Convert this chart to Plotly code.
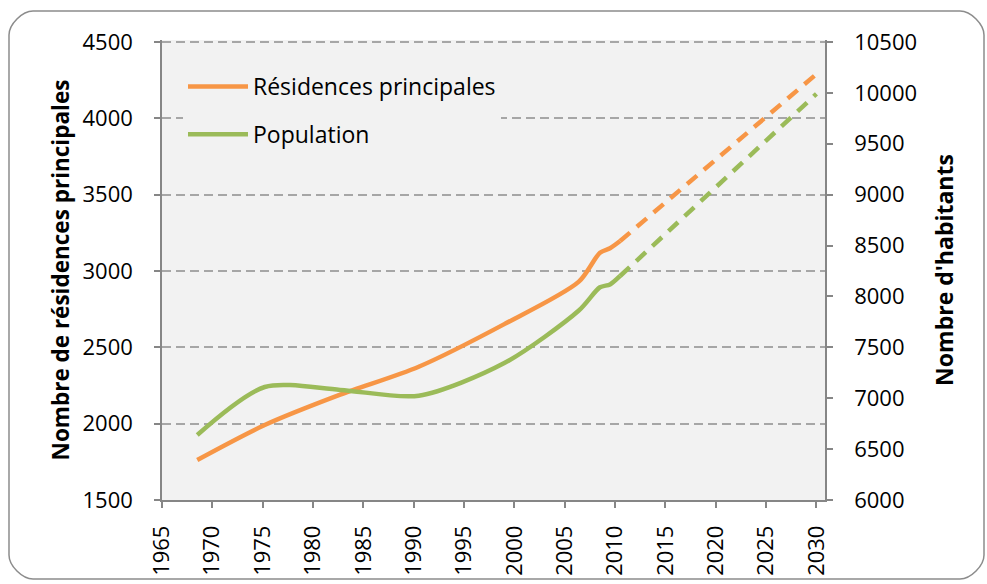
import plotly.graph_objects as go

# ---- data ----
years_obs = [1968.5, 1975.2, 1982.7, 1990.5, 1999.0, 2006.4, 2008.5, 2009.5, 2010.5]
residences_obs = [1762, 1991, 2190, 2373, 2652, 2930, 3120, 3149, 3196]
population_obs = [6639, 7110, 7082, 7025, 7345, 7862, 8090, 8118, 8201]

years_proj = [2010.5, 2030]
residences_proj = [3196, 4290]
population_proj = [8201, 9990]

left_ticks = [1500, 2000, 2500, 3000, 3500, 4000, 4500]
right_ticks = [6000, 6500, 7000, 7500, 8000, 8500, 9000, 9500, 10000, 10500]
right_labels = [str(v) for v in right_ticks]
x_ticks = list(range(1965, 2031, 5))

ORANGE = "#F79646"
GREEN = "#9BBB59"
FONT = "Open Sans"

W, H = 987, 584
L, R, T, B = 162, 825, 40, 500
EXTRA = 2  # px of plot area above the 4500 gridline so that it is drawn
left_top = 4500 + EXTRA * 3000 / (B - T - EXTRA)
right_top = 10500 + EXTRA * 4500 / (B - T - EXTRA)

fig = go.Figure()
fig.add_trace(go.Scatter(x=years_obs, y=residences_obs, mode="lines",
                         name="Résidences principales", legendgroup="a",
                         line=dict(color=ORANGE, width=4.5, shape="spline", smoothing=0.8)))
fig.add_trace(go.Scatter(x=years_proj, y=residences_proj, mode="lines",
                         showlegend=False, legendgroup="a",
                         line=dict(color=ORANGE, width=4.5, dash="13px,9px")))
fig.add_trace(go.Scatter(x=years_obs, y=population_obs, mode="lines", yaxis="y2",
                         name="Population", legendgroup="b",
                         line=dict(color=GREEN, width=4.5, shape="spline", smoothing=0.8)))
fig.add_trace(go.Scatter(x=years_proj, y=population_proj, mode="lines", yaxis="y2",
                         showlegend=False, legendgroup="b",
                         line=dict(color=GREEN, width=4.5, dash="13px,9px")))

def px2paper(px, py):
    return (px - L) / (R - L), (B - py) / (B - T)

# rounded outer border
x0, y0, x1, y1, r = 9, 11, 984, 579, 24
k = 0.45 * r
pts = [
    ("M", [(x0 + r, y0)]),
    ("L", [(x1 - r, y0)]),
    ("C", [(x1 - r + k, y0), (x1, y0 + r - k), (x1, y0 + r)]),
    ("L", [(x1, y1 - r)]),
    ("C", [(x1, y1 - r + k), (x1 - r + k, y1), (x1 - r, y1)]),
    ("L", [(x0 + r, y1)]),
    ("C", [(x0 + r - k, y1), (x0, y1 - r + k), (x0, y1 - r)]),
    ("L", [(x0, y0 + r)]),
    ("C", [(x0, y0 + r - k), (x0 + r - k, y0), (x0 + r, y0)]),
]
path = ""
for cmd, cps in pts:
    path += cmd + " ".join("%.5f,%.5f" % px2paper(a, b) for a, b in cps) + " "
path += "Z"

axis_common = dict(zeroline=False, showline=True, linecolor="#868686", linewidth=1.5,
                   ticks="outside", ticklen=6, tickcolor="#868686", tickwidth=1.5,
                   automargin=False,
                   tickfont=dict(family=FONT, size=22, color="black"))

fig.update_layout(
    width=W, height=H,
    margin=dict(l=L, r=W - R, t=T, b=H - B, pad=0, autoexpand=False),
    paper_bgcolor="white",
    plot_bgcolor="#F2F2F2",
    font=dict(family=FONT, size=22, color="black"),
    showlegend=True,
    legend=dict(x=px2paper(183, 0)[0], y=px2paper(0, 65)[1], xanchor="left", yanchor="top",
                bgcolor="#F2F2F2", font=dict(family=FONT, size=23, color="black"),
                traceorder="grouped", tracegroupgap=15, itemwidth=60),
    xaxis=dict(range=[1965, 2030.85], tickvals=x_ticks, tickangle=-90,
               showgrid=False, ticklabelstandoff=9, **axis_common),
    yaxis=dict(range=[1500, left_top], tickvals=left_ticks,
               showgrid=True, gridcolor="#A6A6A6", gridwidth=1.8, griddash="9px,5px",
               ticklabelstandoff=17,
               title=dict(text="<b>Nombre de résidences principales</b>",
                          font=dict(family=FONT, size=22.5), standoff=7),
               **axis_common),
    yaxis2=dict(range=[6000, right_top], tickvals=right_ticks, ticktext=right_labels,
                overlaying="y", side="right", showgrid=False, ticklabelstandoff=17,
                title=dict(text="<b>Nombre d'habitants</b>",
                           font=dict(family=FONT, size=23), standoff=21),
                **axis_common),
    shapes=[dict(type="path", xref="paper", yref="paper", path=path,
                 line=dict(color="#8C8C8C", width=1.5), fillcolor="rgba(0,0,0,0)", layer="below")],
)

fig.write_html("out.html", config={"displayModeBar": False},
               post_script="document.body.style.margin='0px';")
